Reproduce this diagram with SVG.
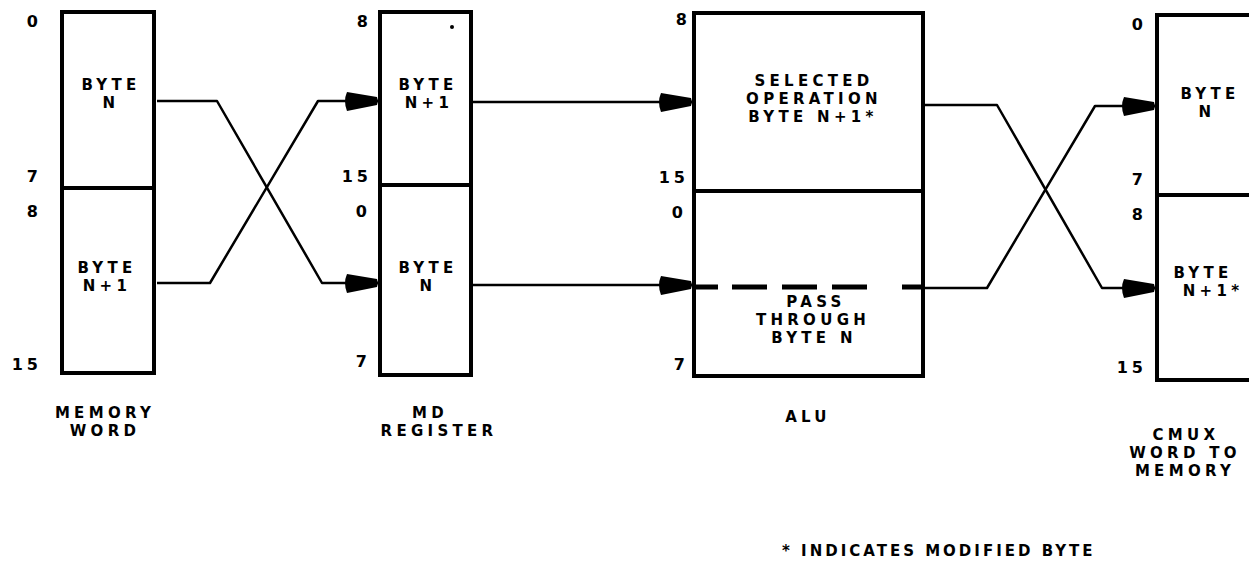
<svg xmlns="http://www.w3.org/2000/svg" width="1249" height="567" viewBox="0 0 1249 567">
<style>
.bx{fill:#fff;stroke:#000;stroke-width:4}
.dv{stroke:#000;stroke-width:4}
.t{font-family:"DejaVu Sans","Liberation Sans",sans-serif;font-weight:bold;font-size:15px;letter-spacing:4.3px;text-anchor:middle;fill:#000}
.n{font-family:"DejaVu Sans","Liberation Sans",sans-serif;font-weight:bold;font-size:16px;text-anchor:end;fill:#000}
.c{fill:none;stroke:#000;stroke-width:2.5;stroke-linejoin:round}
</style>
<defs>
<marker id="ah" markerUnits="userSpaceOnUse" viewBox="-36 -12 37 24" markerWidth="37" markerHeight="24" refX="0" refY="0" orient="auto" overflow="visible">
<path d="M-31,-9 Q-35,0 -31,10 L-1,4 L0,0 L-1,-4 Z" fill="#000"/>
</marker>
</defs>
<rect width="1249" height="567" fill="#fff"/>
<g id="memory-word">
<rect class="bx" x="62" y="12" width="92" height="361"/>
<line class="dv" x1="62" y1="188" x2="154" y2="188"/>
<text class="t" x="111" y="90">BYTE</text>
<text class="t" x="111" y="108">N</text>
<text class="t" x="107" y="273">BYTE</text>
<text class="t" x="107" y="291">N+1</text>
<text class="n" x="38" y="27">0</text>
<text class="n" x="38" y="182">7</text>
<text class="n" x="38" y="217">8</text>
<text class="n" x="38" y="370">1<tspan dx="4">5</tspan></text>
<text class="t" x="105" y="418">MEMORY</text>
<text class="t" x="105" y="436">WORD</text>
</g>
<g id="md-register">
<rect class="bx" x="380" y="12" width="91" height="363"/>
<line class="dv" x1="380" y1="185" x2="471" y2="185"/>
<circle cx="452" cy="27" r="2"/>
<text class="t" x="428" y="90">BYTE</text>
<text class="t" x="429" y="108">N+1</text>
<text class="t" x="428" y="273">BYTE</text>
<text class="t" x="428" y="291">N</text>
<text class="n" x="368" y="27">8</text>
<text class="n" x="368" y="182">1<tspan dx="4">5</tspan></text>
<text class="n" x="367" y="217">0</text>
<text class="n" x="367" y="367">7</text>
<text class="t" x="430" y="418">MD</text>
<text class="t" x="439" y="436">REGISTER</text>
</g>
<g id="alu">
<rect class="bx" x="694" y="13" width="229" height="363"/>
<line class="dv" x1="694" y1="191" x2="923" y2="191"/>
<text class="t" x="814" y="86">SELECTED</text>
<text class="t" x="814" y="104">OPERATION</text>
<text class="t" x="813" y="122">BYTE N+1*</text>
<text class="t" x="816" y="307">PASS</text>
<text class="t" x="813" y="325">THROUGH</text>
<text class="t" x="814" y="343">BYTE N</text>
<text class="n" x="687" y="25">8</text>
<text class="n" x="685" y="183">1<tspan dx="4">5</tspan></text>
<text class="n" x="683" y="218">0</text>
<text class="n" x="685" y="370">7</text>
<text class="t" x="808" y="422">ALU</text>
</g>
<g id="cmux">
<rect class="bx" x="1157" y="15" width="120" height="365"/>
<line class="dv" x1="1157" y1="195" x2="1277" y2="195"/>
<text class="t" x="1210" y="99">BYTE</text>
<text class="t" x="1207" y="117">N</text>
<text class="t" x="1203" y="278">BYTE</text>
<text class="t" x="1213" y="296">N+1*</text>
<text class="n" x="1143" y="30">0</text>
<text class="n" x="1143" y="185">7</text>
<text class="n" x="1143" y="220">8</text>
<text class="n" x="1143" y="373">1<tspan dx="4">5</tspan></text>
<text class="t" x="1186" y="440">CMUX</text>
<text class="t" x="1185" y="458">WORD TO</text>
<text class="t" x="1185" y="476">MEMORY</text>
</g>
<g id="footnote">
<text class="t" x="782" y="556" style="text-anchor:start;letter-spacing:3px">* INDICATES MODIFIED BYTE</text>
</g>
<g id="connectors">
<path class="c" d="M157,101 H217 L322,283 H378" marker-end="url(#ah)"/>
<path class="c" d="M157,283 H210 L318,101 H378" marker-end="url(#ah)"/>
<path class="c" d="M473,102 H692" marker-end="url(#ah)"/>
<path class="c" d="M473,285 H692" marker-end="url(#ah)"/>
<path d="M692,287 H925" stroke="#000" stroke-width="5" stroke-dasharray="26 14 35 15 35 15 35 35 25"/>
<path class="c" d="M925,105 H997 L1102,288 H1155" marker-end="url(#ah)"/>
<path class="c" d="M925,288 H987 L1095,106 H1155" marker-end="url(#ah)"/>
</g>
</svg>
